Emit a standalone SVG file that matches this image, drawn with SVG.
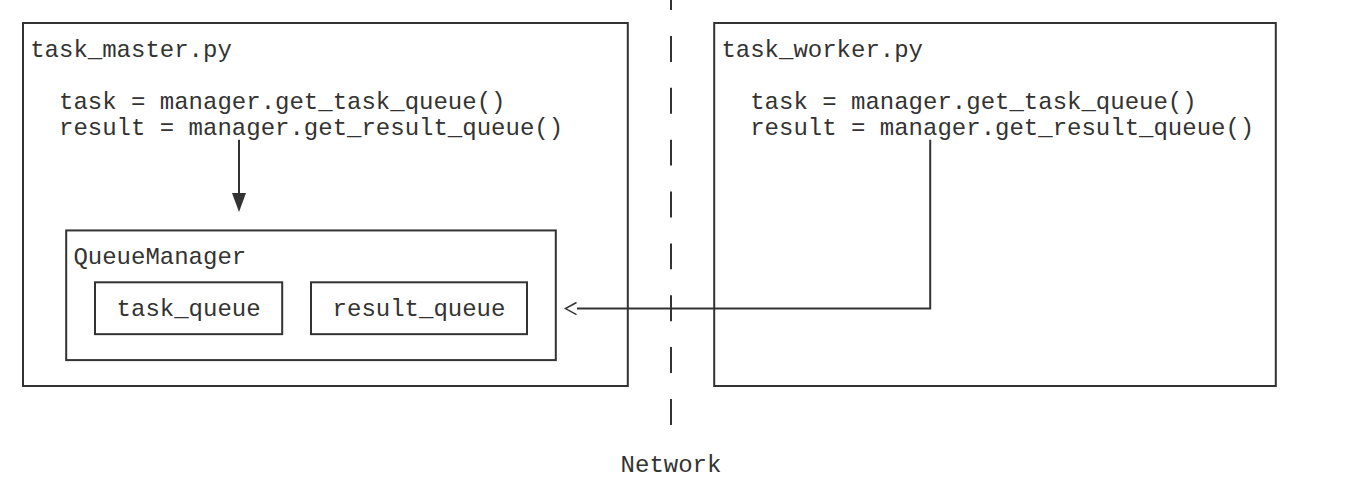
<svg xmlns="http://www.w3.org/2000/svg" width="1346" height="484" viewBox="0 0 1346 484">
  <style>
    .box { fill: none; stroke: #333; stroke-width: 2; }
    .line { fill: none; stroke: #333; stroke-width: 2; }
    .head { fill: #333; }
    .chev { fill: none; stroke: #333; stroke-width: 1.5; }
    .net { fill: none; stroke: #333; stroke-width: 2; stroke-dasharray: 25.93 25.93; }
    text { font-family: "Liberation Mono", "Courier New", monospace; font-size: 24px; fill: #333; white-space: pre; }
  </style>
  <rect width="1346" height="484" fill="#fff"/>

  <!-- network boundary -->
  <g id="network">
    <line class="net" x1="671" y1="-15.9" x2="671" y2="424.92"/>
    <text x="620.6" y="471.8">Network</text>
  </g>

  <!-- master process -->
  <g id="task_master">
    <rect class="box" x="23" y="23" width="604.8" height="363"/>
    <text x="30.2" y="57">task_master.py</text>
    <text x="59" y="108.8">task = manager.get_task_queue()</text>
    <text x="59" y="134.7">result = manager.get_result_queue()</text>
  </g>

  <g id="queue_manager">
    <rect class="box" x="66.2" y="230.44" width="489.6" height="129.65"/>
    <text x="73.4" y="264.4">QueueManager</text>
  </g>

  <g id="task_queue">
    <rect class="box" x="95" y="282.3" width="187.2" height="51.86"/>
    <text x="116.6" y="316.2">task_queue</text>
  </g>

  <g id="result_queue">
    <rect class="box" x="311" y="282.3" width="216" height="51.86"/>
    <text x="332.6" y="316.2">result_queue</text>
  </g>

  <!-- worker process -->
  <g id="task_worker">
    <rect class="box" x="714.2" y="23" width="561.6" height="363"/>
    <text x="721.4" y="57">task_worker.py</text>
    <text x="750.2" y="108.8">task = manager.get_task_queue()</text>
    <text x="750.2" y="134.7">result = manager.get_result_queue()</text>
  </g>

  <g id="connectors">
    <!-- master registers queues with the manager -->
    <line class="line" x1="239" y1="139.7" x2="239" y2="194"/>
    <path class="head" d="M232,193 L246,193 L239,212 Z"/>
    <!-- worker reaches result_queue over the network -->
    <polyline class="line" points="930.2,139.7 930.2,308.6 577,308.6"/>
    <polyline class="chev" points="576.5,302.5 565.5,308.6 576.5,314.7"/>
  </g>
</svg>
